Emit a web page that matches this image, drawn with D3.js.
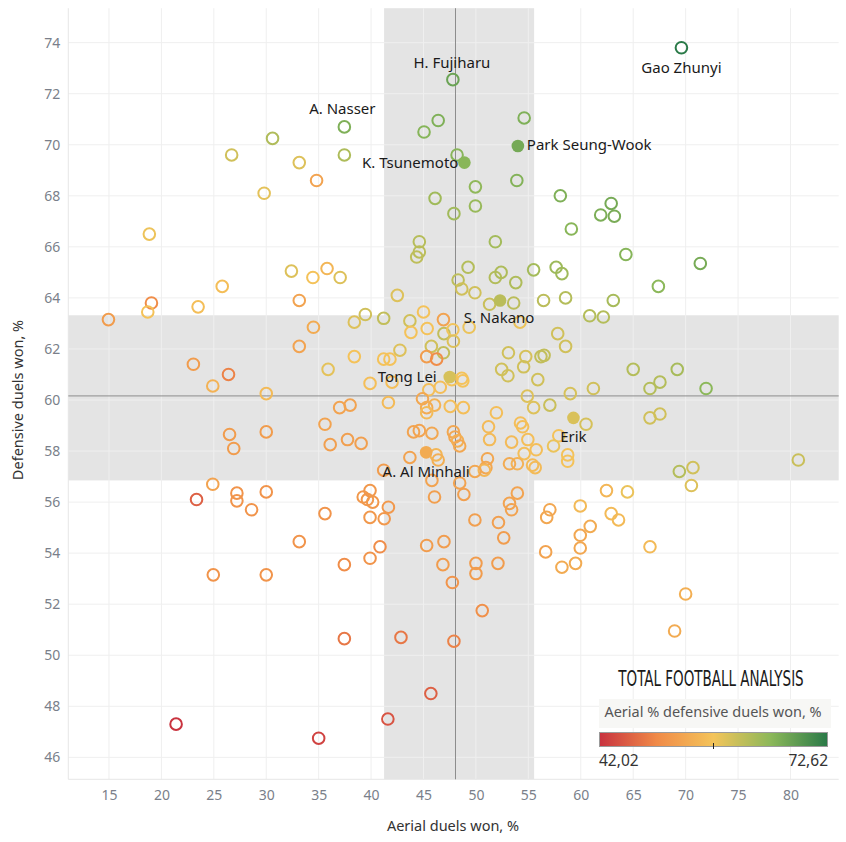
<!DOCTYPE html>
<html><head><meta charset="utf-8">
<script src="https://cdn.jsdelivr.net/npm/d3@7"></script>
<style>
html,body{margin:0;padding:0;background:#fff;}
svg{display:block;font-family:"Noto Sans",sans-serif;}
</style></head>
<body><svg id="chart" width="846" height="842"></svg>
<script>
// ---- data: [aerial duels won %, defensive duels won %, colour metric] ----
const players = [
 [69.6,73.8,72.6],[47.8,72.55,67.6],[37.45,70.7,66],[54.0,69.95,66.8],[48.9,69.3,65.2],
 [52.3,63.9,61.6],[47.5,60.9,59.5],[59.3,59.3,59.3],[45.25,57.95,54]
];
const playerNames = ["Gao Zhunyi","H. Fujiharu","A. Nasser","Park Seung-Wook","K. Tsunemoto","S. Nakano","Tong Lei","Erik","A. Al Minhali"];
const playerFilled = [false,false,false,true,true,true,true,true,true];

const others = [
 [46.4,70.95,66],[45.05,70.5,65.4],[54.6,71.05,66],[48.2,69.6,65.3],[53.9,68.6,65.7],
 [49.95,68.35,64.7],[58.05,68.0,66],[46.1,67.9,63.5],[49.95,67.6,64.1],[47.9,67.3,63.4],
 [59.1,66.7,65.2],[44.6,66.2,61.9],[44.6,65.8,61.6],[44.35,65.6,61.3],[51.85,66.2,63.3],
 [49.25,65.2,62],[52.4,65.0,62.5],[51.85,64.8,62.2],[55.5,65.1,63.2],[57.65,65.2,63.7],
 [58.2,64.95,63.6],[53.8,64.6,62.4],[48.3,64.7,61.4],[61.9,67.25,66.2],[62.9,67.7,66.7],
 [63.2,67.2,66.4],[64.3,65.7,65.4],[71.4,65.35,66.6],
 [30.6,70.25,62.3],[26.7,69.6,60],[33.15,69.3,59],[29.8,68.1,58.5],[18.85,66.5,57.8],
 [32.4,65.05,59],[37.45,69.6,62.5],[34.8,68.6,53],[34.45,64.8,57],[35.8,65.15,55.5],
 [37.05,64.8,59],[25.8,64.45,56.5],[33.15,63.9,53],[19.05,63.8,50],[18.7,63.45,57],
 [23.5,63.65,56.5],[14.95,63.15,52],[33.15,62.1,53],[23.05,61.4,52],[26.4,61.0,49],
 [24.9,60.55,55],[30.0,60.25,56],[26.5,58.65,52],[26.9,58.1,52],[30.0,58.75,52],
 [24.9,56.7,53],[23.35,56.1,46],[27.2,56.35,51],[27.2,56.05,51],[28.6,55.7,51],
 [30.0,56.4,51],[33.15,54.45,51],[24.95,53.15,51],[30.0,53.15,51],[21.4,47.3,42.2],
 [37.45,53.55,50],[39.9,53.8,51],[46.85,53.55,52],[50.0,53.6,52],[50.0,53.2,52],
 [52.1,53.6,52],[47.75,52.85,51],[50.6,51.75,50.5],[37.45,50.65,48],[42.85,50.7,48],
 [47.9,50.55,49],[45.7,48.5,46],[41.6,47.5,45],[35.0,46.75,43.5],[58.2,53.45,54],
 [59.5,53.6,54],[70.0,52.4,54.5],[68.95,50.95,54],
 [67.4,64.45,65],[58.55,64.0,62],[63.1,63.9,63],[60.85,63.3,62],[62.15,63.25,62],
 [57.8,62.6,60],[58.55,62.1,60],[65.0,61.2,62],[69.2,61.2,63],[67.55,60.7,62],
 [66.6,60.45,62],[71.95,60.45,65],[61.2,60.45,60],[59.0,60.25,59.5],[60.5,59.05,59.5],
 [66.6,59.3,60],[67.55,59.45,60],[80.75,57.65,60.5],[69.4,57.2,62],[70.7,57.35,60],
 [70.55,56.65,59],[58.75,57.85,57],[58.75,57.6,57],[57.9,58.6,57],[62.45,56.45,55.5],
 [64.45,56.4,58],[59.95,55.85,56],[62.9,55.55,56],[63.6,55.3,56],[60.9,55.05,54],
 [59.95,54.7,53.5],[59.95,54.2,53.5],[66.6,54.25,56],
 [42.5,64.1,59],[48.65,64.35,60],[49.9,64.2,60],[51.3,63.75,60.5],[53.6,63.8,61.5],
 [56.45,63.9,61.5],[39.45,63.35,60],[41.2,63.2,61],[38.4,63.05,59],[43.7,63.1,60],
 [45.0,63.45,57],[45.35,62.8,57],[46.9,63.15,53],[46.95,62.6,61],[47.8,62.75,57.5],
 [47.85,62.3,59],[49.35,62.85,58],[54.2,63.05,58],[34.5,62.85,54],[43.8,62.65,57],
 [42.75,61.95,59],[45.75,62.1,60],[46.9,61.85,61],[45.3,61.7,52],[46.25,61.6,50],
 [38.4,61.7,57],[41.2,61.6,57],[41.8,61.6,57],[35.9,61.2,58.5],[53.1,61.85,60],
 [54.75,61.7,59.5],[56.2,61.7,61],[56.5,61.75,61],[52.45,61.2,60],[53.05,60.95,60],
 [54.55,61.3,60],[55.9,60.8,60],[54.9,60.15,59],[55.5,59.7,59],[57.05,59.8,60.5],
 [48.65,60.85,57],[48.75,60.75,57],[47.7,60.8,57],[46.6,60.5,56.5],[45.5,60.4,56.5],
 [42.0,60.7,56.5],[39.9,60.65,56.5],[41.65,59.9,56],[38.0,59.8,53],[37.0,59.7,53],
 [35.6,59.05,53],[36.1,58.25,52.5],[37.75,58.45,52.5],[39.05,58.3,52.5],[44.9,60.05,53.5],
 [46.05,59.8,55],[45.3,59.7,54],[45.3,59.5,56],[47.55,59.75,56.5],[48.8,59.7,56.5],
 [51.95,59.5,56.5],[51.2,58.95,56],[54.25,59.1,56.5],[54.45,58.95,56.5],[54.95,58.45,56.5],
 [53.4,58.35,56],[51.3,58.45,56],[44.05,58.75,53],[44.6,58.8,53],[45.8,58.7,53.5],
 [47.85,58.75,53.5],[48.0,58.55,53.5],[48.25,58.4,54.5],[48.45,58.2,53.5],[57.4,58.2,58],
 [55.75,58.05,56.5],[54.6,57.9,56.5],[55.4,57.45,56],[55.65,57.35,56],[53.95,57.5,55],
 [53.2,57.5,54],[51.1,57.7,53.5],[50.95,57.35,53.5],[50.8,57.25,55.5],[49.9,57.2,53.5],
 [43.7,57.75,53],[46.2,57.85,55.5],[46.4,57.65,54.5],[41.2,57.25,52],[45.8,56.85,53],
 [48.45,56.75,53],[48.85,56.3,52.5],[46.05,56.2,52.5],[53.95,56.35,53],[53.2,55.95,53],
 [53.4,55.7,53],[57.05,55.7,53.5],[56.75,55.4,53.5],[49.9,55.3,52.5],[52.15,55.2,52.5],
 [52.65,54.6,52],[56.65,54.05,53],[46.95,54.45,52],[45.3,54.3,52],[40.85,54.25,50],
 [39.25,56.2,51.5],[39.9,56.45,51.5],[39.65,56.1,51.5],[40.15,56.0,51.5],[41.65,55.8,51.5],
 [41.25,55.35,51.5],[39.9,55.4,51.5],[35.6,55.55,51]
];

const xTicks = [15,20,25,30,35,40,45,50,55,60,65,70,75,80];
const yTicks = [46,48,50,52,54,56,58,60,62,64,66,68,70,72,74];
const xBand = [41.24, 55.55];   // aerial band (mean ± sd)
const yBand = [56.85, 63.32];   // defensive band
const xMedian = 48.05;
const yMedian = 60.16;
const colorMin = 42.02, colorMax = 72.62;
const colorLabels = ["42,02","72,62"];
const xTitle = "Aerial duels won, %";
const yTitle = "Defensive duels won, %";
const legendTitle = "Aerial % defensive duels won, %";
const logoText = "TOTAL FOOTBALL ANALYSIS";

// ---- layout ----
const svg = d3.select("#chart");
const x = d3.scaleLinear().domain([11.12, 84.6]).range([68.3, 838.7]);
const y = d3.scaleLinear().domain([45.14, 75.35]).range([779.3, 8.2]);
const mid = (colorMin + colorMax) / 2;
const color = d3.scaleLinear()
  .domain([colorMin, colorMin + (mid-colorMin)*0.5, mid, mid + (colorMax-mid)*0.5, colorMax])
  .range(["#c8323f", "#f08a48", "#f4c45a", "#8cb85a", "#2a7a48"])
  .interpolate(d3.interpolateRgb);

const [x0, x1] = x.range(), [y0, y1] = y.range();

// bands
svg.append("rect").attr("x", x(xBand[0])).attr("y", y1)
  .attr("width", x(xBand[1]) - x(xBand[0])).attr("height", y0 - y1).attr("fill", "#e4e4e4");
svg.append("rect").attr("x", x0).attr("y", y(yBand[1]))
  .attr("width", x1 - x0).attr("height", y(yBand[0]) - y(yBand[1])).attr("fill", "#e4e4e4");

// gridlines
const grid = svg.append("g");
grid.selectAll(".gx").data(xTicks).join("line")
  .attr("x1", d => x(d)).attr("x2", d => x(d)).attr("y1", y1).attr("y2", y0)
  .attr("stroke", "#efefef").attr("stroke-width", 1);
grid.selectAll(".gy").data(yTicks).join("line")
  .attr("x1", x0).attr("x2", x1).attr("y1", d => y(d)).attr("y2", d => y(d))
  .attr("stroke", "#efefef").attr("stroke-width", 1);
svg.append("line").attr("x1", x0).attr("x2", x0).attr("y1", y1).attr("y2", y0).attr("stroke", "#e6e6e6");
svg.append("line").attr("x1", x0).attr("x2", x1).attr("y1", y0).attr("y2", y0).attr("stroke", "#e6e6e6");

// medians
svg.append("line").attr("x1", x(xMedian)).attr("x2", x(xMedian)).attr("y1", y1).attr("y2", y0)
  .attr("stroke", "#8c8c8c").attr("stroke-width", 1);
svg.append("line").attr("x1", x0).attr("x2", x1).attr("y1", y(yMedian)).attr("y2", y(yMedian))
  .attr("stroke", "#8c8c8c").attr("stroke-width", 1);

// axes
const xAxis = svg.append("g").attr("transform", `translate(0,${y0})`)
  .call(d3.axisBottom(x).tickValues(xTicks).tickSize(0).tickPadding(11));
const yAxis = svg.append("g").attr("transform", `translate(${x0},0)`)
  .call(d3.axisLeft(y).tickValues(yTicks).tickSize(0).tickPadding(8));
[xAxis, yAxis].forEach(a => {
  a.select(".domain").remove();
  a.selectAll("text").attr("fill", "#7a7f8a").style("font-size", "14px")
    .style("font-family", "'Noto Sans',sans-serif");
});

svg.append("text").attr("x", 453).attr("y", 831).attr("text-anchor", "middle")
  .attr("fill", "#333").style("font-size", "14.5px").text(xTitle);
svg.append("text").attr("transform", "translate(23,400) rotate(-90)").attr("text-anchor", "middle")
  .attr("fill", "#333").style("font-size", "14.5px").text(yTitle);

// points
svg.append("g").selectAll("circle").data(others).join("circle")
  .attr("cx", d => x(d[0])).attr("cy", d => y(d[1])).attr("r", 5.8)
  .attr("fill", "none").attr("stroke", d => color(d[2])).attr("stroke-width", 2);

const named = players.map((d, i) => ({x: d[0], y: d[1], c: d[2], name: playerNames[i], filled: playerFilled[i]}));
svg.append("g").selectAll("circle").data(named).join("circle")
  .attr("cx", d => x(d.x)).attr("cy", d => y(d.y)).attr("r", d => d.filled ? 6.3 : 5.8)
  .attr("fill", d => d.filled ? color(d.c) : "none")
  .attr("stroke", d => color(d.c)).attr("stroke-width", d => d.filled ? 0 : 2);

// label placement (style)
const labelPlace = {
  "Gao Zhunyi": {dx: 0, dy: 25, anchor: "middle"},
  "H. Fujiharu": {dx: -1, dy: -12, anchor: "middle"},
  "A. Nasser": {dx: -2, dy: -13, anchor: "middle"},
  "Park Seung-Wook": {dx: 9, dy: 4, anchor: "start"},
  "K. Tsunemoto": {dx: -6, dy: 5, anchor: "end"},
  "S. Nakano": {dx: -1, dy: 23, anchor: "middle"},
  "Tong Lei": {dx: -13, dy: 5, anchor: "end"},
  "Erik": {dx: 0, dy: 24, anchor: "middle"},
  "A. Al Minhali": {dx: 0, dy: 25, anchor: "middle"}
};
svg.append("g").selectAll("text").data(named).join("text")
  .attr("x", d => x(d.x) + labelPlace[d.name].dx)
  .attr("y", d => y(d.y) + labelPlace[d.name].dy)
  .attr("text-anchor", d => labelPlace[d.name].anchor)
  .attr("fill", "#1a1a1a").style("font-size", "15px").text(d => d.name);

// logo
svg.append("text").attr("transform", "translate(711,686) scale(1,1.45)").attr("text-anchor", "middle")
  .attr("fill", "#1a1a1a").style("font-family", "'Liberation Sans Narrow','DejaVu Sans Condensed',sans-serif")
  .style("font-size", "15px").text(logoText);

// legend
const lg = svg.append("g");
lg.append("rect").attr("x", 599).attr("y", 699).attr("width", 232).attr("height", 29).attr("fill", "#f7f7f5");
lg.append("text").attr("x", 713).attr("y", 717).attr("text-anchor", "middle")
  .attr("fill", "#555").style("font-size", "14.5px").text(legendTitle);
const defs = svg.append("defs");
const grad = defs.append("linearGradient").attr("id", "cgrad");
d3.range(0, 1.0001, 0.05).forEach(t => {
  grad.append("stop").attr("offset", t).attr("stop-color", color(colorMin + t * (colorMax - colorMin)));
});
lg.append("rect").attr("x", 599.5).attr("y", 732.5).attr("width", 228).attr("height", 14)
  .attr("fill", "url(#cgrad)").attr("stroke", "#9a9a9a").attr("stroke-width", 1);
lg.append("line").attr("x1", 713.5).attr("x2", 713.5).attr("y1", 743).attr("y2", 749).attr("stroke", "#222");
lg.append("text").attr("x", 599).attr("y", 766).attr("fill", "#333").style("font-size", "15.5px").text(colorLabels[0]);
lg.append("text").attr("x", 828).attr("y", 766).attr("text-anchor", "end").attr("fill", "#333").style("font-size", "15.5px").text(colorLabels[1]);
</script></body></html>
